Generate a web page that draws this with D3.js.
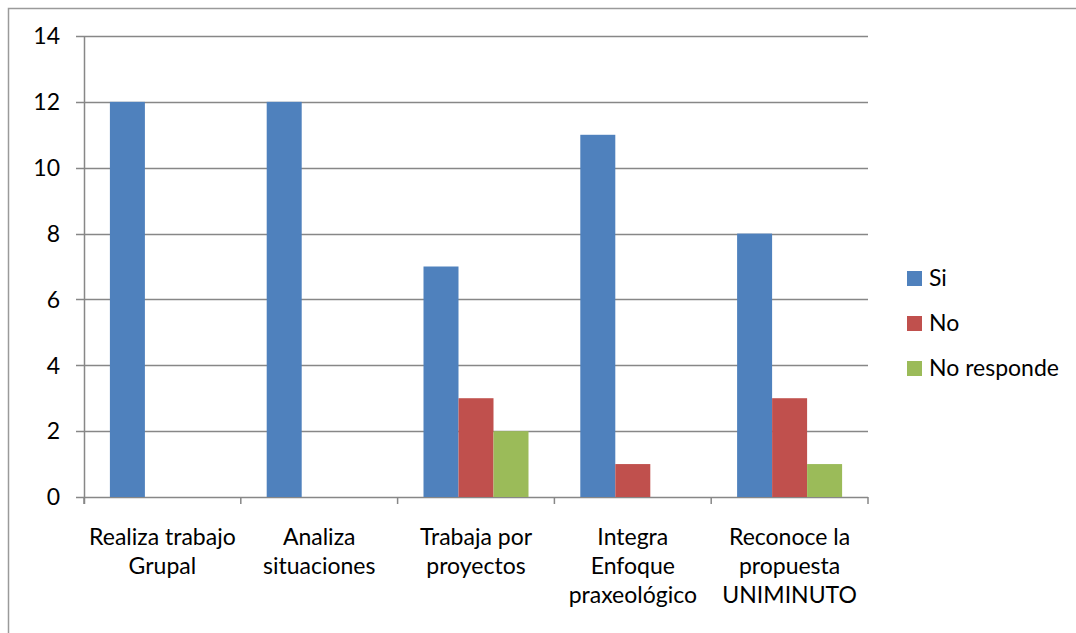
<!doctype html>
<html lang="es">
<head>
<meta charset="utf-8"/>
<title>Encuesta</title>
<script src="https://d3js.org/d3.v7.min.js"></script>
<style>
  body { margin: 0; background: #fff; }
  svg text { font-family: Lato, "Open Sans", sans-serif; fill: #000; }
</style>
</head>
<body>
<svg id="chart"></svg>
<script>
    const categories = [
        ["Realiza trabajo", "Grupal"],
        ["Analiza", "situaciones"],
        ["Trabaja por", "proyectos"],
        ["Integra", "Enfoque", "praxeológico"],
        ["Reconoce la", "propuesta", "UNIMINUTO"]
    ];
    const seriesNames = ["Si", "No", "No responde"];
    const si = [12, 12, 7, 11, 8];
    const no = [0, 0, 3, 1, 3];
    const noResponde = [0, 0, 2, 0, 1];
    const yTicks = [0, 2, 4, 6, 8, 10, 12, 14];
    const colors = ["#4F81BD", "#C0504D", "#9BBB59"];

    let width = 1076,
        height = 633;

    const svg = d3.select("#chart")
        .attr("width", width)
        .attr("height", height);

    // outer chart border (only top/left are inside the picture)
    svg.append("rect")
        .attr("x", 8.5).attr("y", 8.5)
        .attr("width", 1100).attr("height", 700)
        .attr("fill", "none")
        .attr("stroke", "#9a9a9a")
        .attr("stroke-width", 1.5);

    const plotLeft = 84, plotRight = 868, plotTop = 36, plotBottom = 497;

    const x = d3.scaleBand()
        .domain(d3.range(categories.length))
        .range([plotLeft, plotRight]);

    const xs = d3.scaleBand()
        .domain(seriesNames)
        .range([0, x.bandwidth()])
        .paddingOuter(0.74)
        .paddingInner(0);

    const y = d3.scaleLinear()
        .domain([0, 14])
        .range([plotBottom, plotTop]);

    // gridlines
    svg.append("g")
        .selectAll("line")
        .data(yTicks)
        .join("line")
        .attr("x1", plotLeft - 8)
        .attr("x2", plotRight)
        .attr("y1", d => Math.round(y(d)) + 0.5)
        .attr("y2", d => Math.round(y(d)) + 0.5)
        .attr("stroke", "#878787")
        .attr("stroke-width", 1.5);

    // y tick labels
    svg.append("g")
        .selectAll("text")
        .data(yTicks)
        .join("text")
        .attr("x", 60)
        .attr("y", d => y(d))
        .attr("dy", "0.36em")
        .attr("text-anchor", "end")
        .style("font-size", "23px")
        .text(d => d);

    const series = [si, no, noResponde];

    const rows = [];
    series.forEach((vals, s) => {
        vals.forEach((v, i) => rows.push({ cat: i, s: seriesNames[s], color: colors[s], value: v }));
    });

    svg.append("g")
        .selectAll("rect")
        .data(rows.filter(d => d.value > 0))
        .join("rect")
        .attr("x", d => x(d.cat) + xs(d.s))
        .attr("y", d => y(d.value))
        .attr("width", xs.bandwidth())
        .attr("height", d => y(0) - y(d.value))
        .attr("fill", d => d.color);

    // axes lines
    svg.append("line")
        .attr("x1", plotLeft + 0.5).attr("x2", plotLeft + 0.5)
        .attr("y1", plotTop).attr("y2", plotBottom + 7)
        .attr("stroke", "#878787").attr("stroke-width", 1.5);

    svg.append("g")
        .selectAll("line")
        .data(d3.range(categories.length + 1))
        .join("line")
        .attr("x1", d => plotLeft + d * x.bandwidth())
        .attr("x2", d => plotLeft + d * x.bandwidth())
        .attr("y1", plotBottom)
        .attr("y2", plotBottom + 7)
        .attr("stroke", "#878787")
        .attr("stroke-width", 1.5);

    // category labels
    const labels = svg.append("g")
        .selectAll("text")
        .data(categories)
        .join("text")
        .attr("x", (d, i) => x(i) + x.bandwidth() / 2)
        .attr("y", 545)
        .attr("text-anchor", "middle")
        .style("font-size", "23px");

    labels.selectAll("tspan")
        .data(d => d)
        .join("tspan")
        .attr("x", function () { return d3.select(this.parentNode).attr("x"); })
        .attr("dy", (d, i) => i === 0 ? 0 : 29)
        .text(d => d);

    // legend
    const legend = svg.append("g")
        .selectAll("g")
        .data(seriesNames)
        .join("g")
        .attr("transform", (d, i) => `translate(907, ${278 + i * 45})`);

    legend.append("rect")
        .attr("x", 0).attr("y", -7)
        .attr("width", 15).attr("height", 15)
        .attr("fill", (d, i) => colors[i]);

    legend.append("text")
        .attr("x", 22)
        .attr("y", 0)
        .attr("dy", "0.36em")
        .style("font-size", "23px")
        .text(d => d);
</script>
</body>
</html>
